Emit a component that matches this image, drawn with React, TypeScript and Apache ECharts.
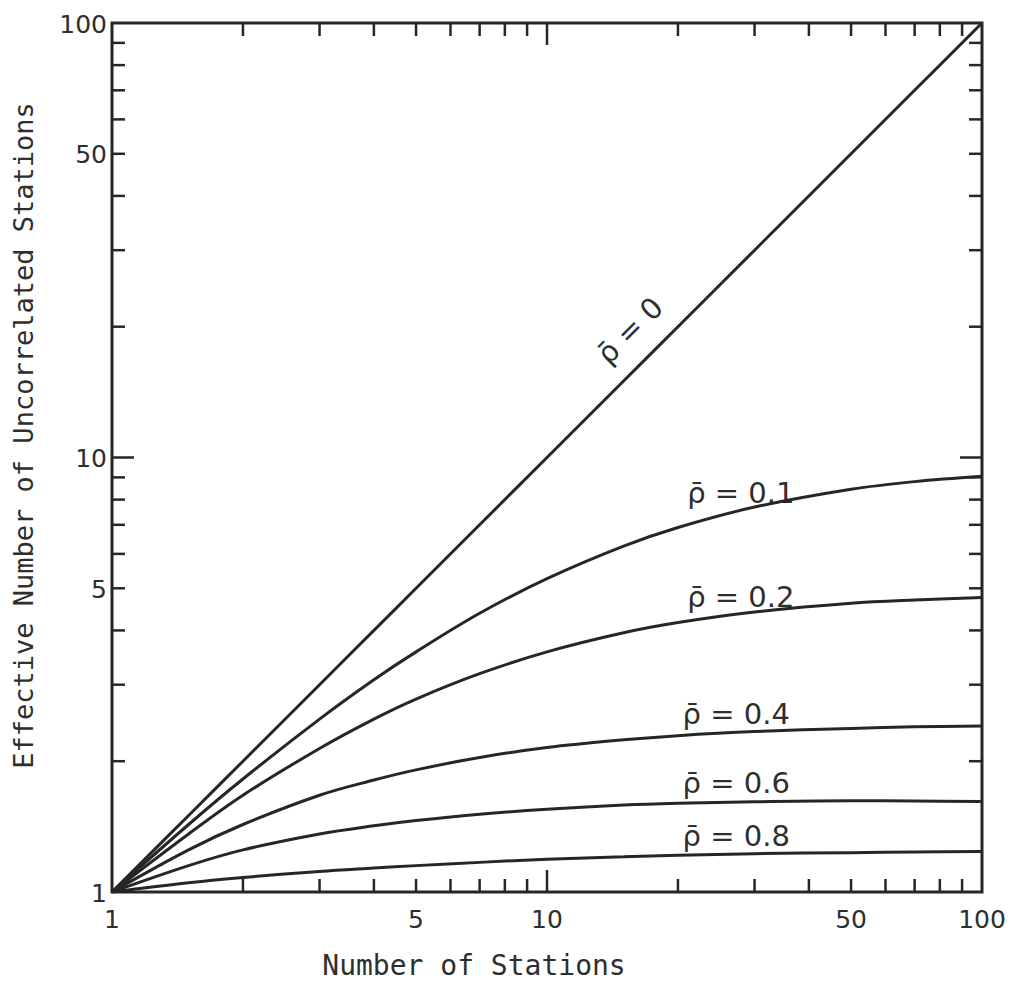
import React, { useEffect, useRef } from "react";
import * as echarts from "echarts";

// ---- data ----
const stations = [1, 1.5, 2, 3, 4, 5, 7, 10, 15, 20, 30, 50, 70, 100];
const rho00 = [1, 1.5, 2, 3, 4, 5, 7, 10, 15, 20, 30, 50, 70, 100];
const rho01 = [1, 1.43, 1.82, 2.5, 3.08, 3.57, 4.38, 5.26, 6.25, 6.9, 7.69, 8.45, 8.8, 9.05];
const rho02 = [1, 1.36, 1.67, 2.14, 2.5, 2.78, 3.18, 3.57, 3.95, 4.17, 4.41, 4.62, 4.7, 4.76];
const rho04 = [1, 1.25, 1.43, 1.67, 1.81, 1.91, 2.04, 2.15, 2.24, 2.29, 2.34, 2.38, 2.4, 2.41];
const rho06 = [1, 1.15, 1.25, 1.36, 1.42, 1.46, 1.51, 1.55, 1.585, 1.6, 1.613, 1.622, 1.62, 1.615];
const rho08 = [1, 1.05, 1.08, 1.115, 1.135, 1.15, 1.17, 1.19, 1.205, 1.215, 1.225, 1.232, 1.236, 1.24];

const curveNames = ["ρ̄ = 0", "ρ̄ = 0.1", "ρ̄ = 0.2", "ρ̄ = 0.4", "ρ̄ = 0.6", "ρ̄ = 0.8"];
const curveValues = [rho00, rho01, rho02, rho04, rho06, rho08];

// label anchors (data coordinates) for the curve annotations
const labelStations = [15.5, 21, 21, 20.5, 20.5, 20.5];
const labelValues = [19.6, 8.28, 4.78, 2.57, 1.78, 1.345];

const tickValues = [2, 3, 4, 5, 6, 7, 8, 9, 10, 20, 30, 40, 50, 60, 70, 80, 90];
const majorTickValues = [10];
const xTickLabels = ["1", "5", "10", "50", "100"];
const xTickLabelValues = [1, 5, 10, 50, 100];
const yTickLabels = ["1", "5", "10", "50", "100"];
const yTickLabelValues = [1, 5, 10, 50, 100];

const xTitle = "Number of Stations";
const yTitle = "Effective Number of Uncorrelated Stations";

const INK = "#262626";
const TEXT = "#2e2e2e";
const TICK_FONT = '25px "DejaVu Sans"';
const CURVE_FONT = '29px "DejaVu Sans"';

export default function App() {
  const ref = useRef<HTMLDivElement>(null);

  useEffect(() => {
    if (!ref.current) return;
    const chart = echarts.init(ref.current, undefined, { renderer: "svg" });

    // tick data: [x, y, side(0 bottom,1 top,2 left,3 right), major]
    const tickData: number[][] = [];
    tickValues.forEach((v) => {
      const m = majorTickValues.includes(v) ? 1 : 0;
      tickData.push([v, 1, 0, m]);
      tickData.push([v, 100, 1, m]);
      tickData.push([1, v, 2, m]);
      tickData.push([100, v, 3, m]);
    });

    const xLabelData = xTickLabelValues.map((v, i) => [v, 1, i]);
    const yLabelData = yTickLabelValues.map((v, i) => [1, v, i]);
    const curveLabelData = labelStations.map((s, i) => [s, labelValues[i], i]);

    const lineSeries = curveValues.map((vals, i) => ({
      name: curveNames[i],
      type: "line",
      data: stations.map((s, j) => [s, vals[j]]),
      symbol: "none",
      smooth: 0.35,
      lineStyle: { color: INK, width: 3 },
      silent: true,
      z: 3,
    }));

    chart.setOption({
      animation: false,
      backgroundColor: "#ffffff",
      grid: {
        left: 112,
        top: 23,
        right: 33,
        bottom: 96,
        show: true,
        borderColor: INK,
        borderWidth: 3,
        backgroundColor: "transparent",
      },
      xAxis: {
        type: "log",
        logBase: 10,
        min: 1,
        max: 100,
        name: xTitle,
        nameLocation: "middle",
        nameGap: 59,
        nameTextStyle: {
          fontFamily: "DejaVu Sans Mono",
          fontSize: 28,
          color: TEXT,
          padding: [0, 146, 0, 0],
        },
        axisLine: { show: false },
        axisTick: { show: false },
        axisLabel: { show: false },
        splitLine: { show: false },
      },
      yAxis: {
        type: "log",
        logBase: 10,
        min: 1,
        max: 100,
        name: yTitle,
        nameLocation: "middle",
        nameGap: 75,
        nameRotate: 90,
        nameTextStyle: {
          fontFamily: "DejaVu Sans Mono",
          fontSize: 27,
          color: TEXT,
          padding: [0, 0, 0, 44],
        },
        axisLine: { show: false },
        axisTick: { show: false },
        axisLabel: { show: false },
        splitLine: { show: false },
      },
      series: [
        ...lineSeries,
        {
          type: "custom",
          name: "ticks",
          silent: true,
          data: tickData,
          encode: { x: 0, y: 1 },
          z: 2,
          renderItem: (params: any, api: any) => {
            const x = api.value(0);
            const y = api.value(1);
            const side = api.value(2);
            const major = api.value(3);
            const p = api.coord([x, y]);
            const len = major ? 22 : 13;
            let x2 = p[0];
            let y2 = p[1];
            if (side === 0) y2 -= len;
            else if (side === 1) y2 += len;
            else if (side === 2) x2 += len;
            else x2 -= len;
            return {
              type: "line",
              shape: { x1: p[0], y1: p[1], x2, y2 },
              style: { stroke: INK, lineWidth: 2.5 },
            };
          },
        },
        {
          type: "custom",
          name: "xLabels",
          silent: true,
          data: xLabelData,
          encode: { x: 0, y: 1 },
          renderItem: (params: any, api: any) => {
            const p = api.coord([api.value(0), api.value(1)]);
            return {
              type: "text",
              x: p[0],
              y: p[1] + 27,
              style: {
                text: xTickLabels[params.dataIndex],
                fill: TEXT,
                font: TICK_FONT,
                align: "center",
                verticalAlign: "middle",
              },
            };
          },
        },
        {
          type: "custom",
          name: "yLabels",
          silent: true,
          data: yLabelData,
          encode: { x: 0, y: 1 },
          renderItem: (params: any, api: any) => {
            const p = api.coord([api.value(0), api.value(1)]);
            return {
              type: "text",
              x: p[0] - 5,
              y: p[1] + 1,
              style: {
                text: yTickLabels[params.dataIndex],
                fill: TEXT,
                font: TICK_FONT,
                align: "right",
                verticalAlign: "middle",
              },
            };
          },
        },
        {
          type: "custom",
          name: "curveLabels",
          silent: true,
          data: curveLabelData,
          encode: { x: 0, y: 1 },
          renderItem: (params: any, api: any) => {
            const p = api.coord([api.value(0), api.value(1)]);
            const i = params.dataIndex;
            const rotated = i === 0;
            return {
              type: "text",
              x: p[0],
              y: p[1],
              rotation: rotated ? Math.PI / 4 : 0,
              style: {
                text: curveNames[i],
                fill: TEXT,
                font: CURVE_FONT,
                align: rotated ? "center" : "left",
                verticalAlign: "middle",
              },
            };
          },
        },
      ],
    });

    return () => chart.dispose();
  }, []);

  return (
    <div
      ref={ref}
      style={{
        position: "fixed",
        left: 0,
        top: 0,
        width: 1015,
        height: 988,
        background: "#ffffff",
      }}
    />
  );
}
